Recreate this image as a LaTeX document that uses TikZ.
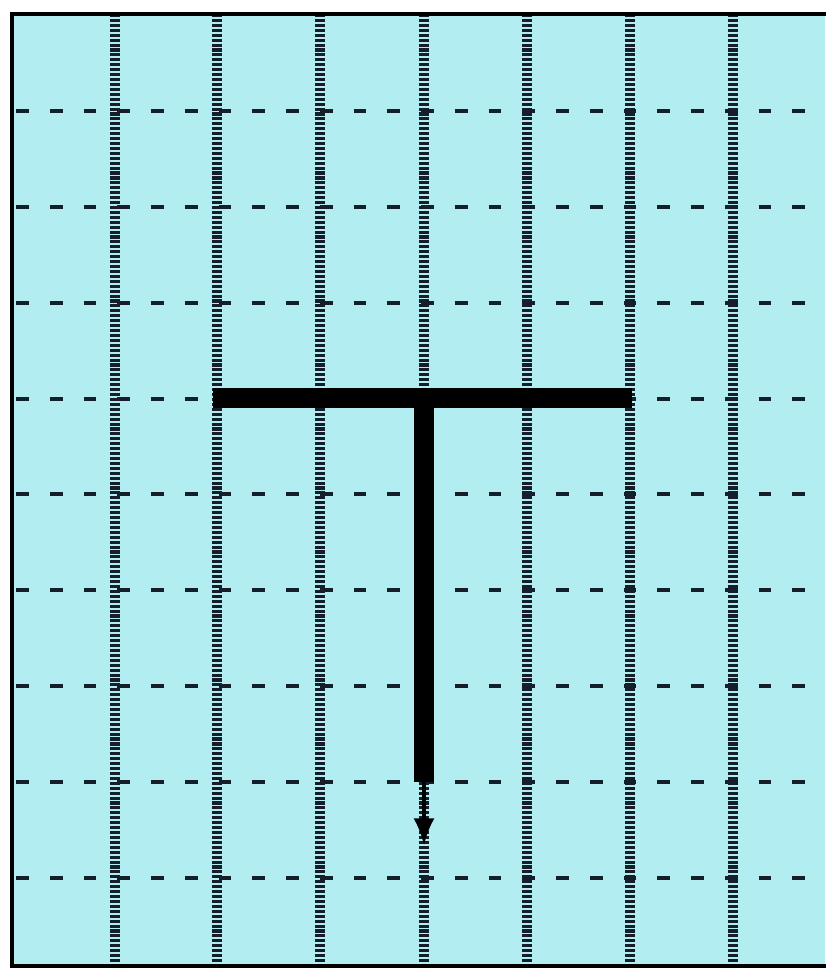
\documentclass[tikz,border=0pt]{standalone}
\usetikzlibrary{arrows.meta}
\definecolor{gridcyan}{RGB}{178,237,242}
\definecolor{gridink}{RGB}{22,30,42}

\begin{document}
\begin{tikzpicture}[x=.025cm,y=-.025cm,>=stealth]
    \useasboundingbox (0,0) rectangle (825,970);
    \fill[white] (0,0) rectangle (825,970);
    \fill[gridcyan] (12,14) rectangle (825,966);
    \foreach \y in {111,207,303,399,494,590,686,782,878} {
      \draw[gridink,line width=2.6pt,dash pattern=on 9pt off 15pt,dash phase=-3pt] (12,\y)--(825,\y);
    }
    \foreach \x in {115,217,320,424,527,630,733} {
      \draw[gridink,line width=7pt,dash pattern=on 2.2pt off 1.3pt] (\x,14)--(\x,966);
    }
    \draw[line width=2.8pt] (830,14)--(12,14)--(12,966)--(830,966);
    \coordinate (barL) at (213,398);
    \coordinate (barR) at (632,398);
    \coordinate (stemTop) at (424,398);
    \coordinate (stemEnd) at (424,782);
    \coordinate (tip) at (424,845);
    \draw[line width=14pt] (barL)--(barR);
    \draw[line width=14pt] (stemTop)--(stemEnd);
    \draw[-{Latex[length=19pt,width=15pt]},line width=2.2pt] (stemEnd)--(tip);
  \end{tikzpicture}
\end{document}
